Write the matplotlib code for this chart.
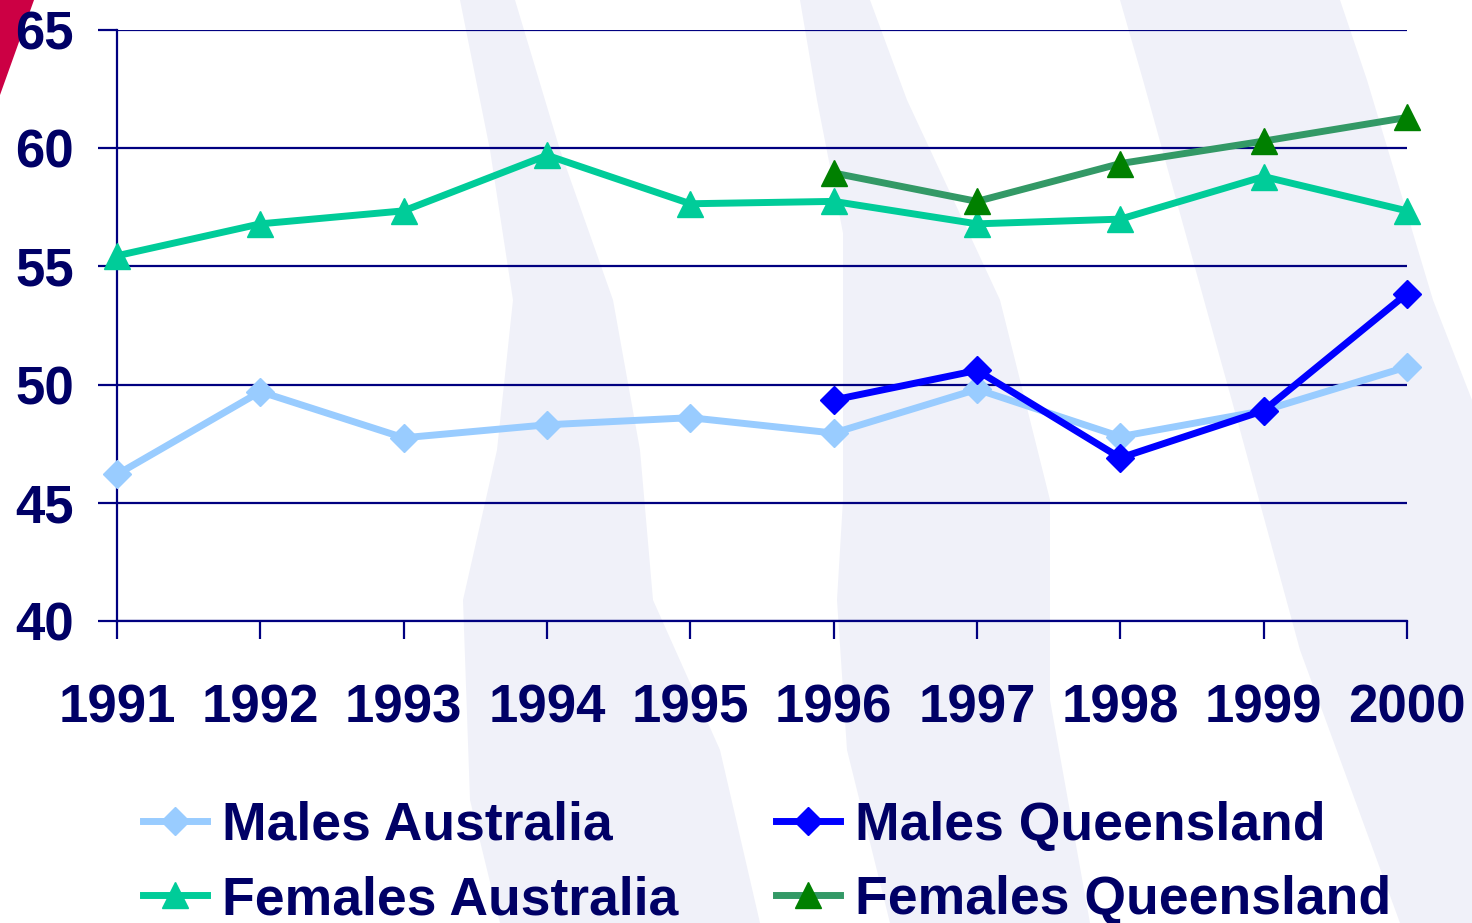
import matplotlib
matplotlib.use("Agg")
import matplotlib.pyplot as plt
from matplotlib.patches import Polygon

years = [1991, 1992, 1993, 1994, 1995, 1996, 1997, 1998, 1999, 2000]
qld_years = [1996, 1997, 1998, 1999, 2000]
males_aus = [46.2, 49.7, 47.75, 48.3, 48.6, 47.95, 49.8, 47.8, 48.9, 50.75]
females_aus = [55.45, 56.8, 57.35, 59.7, 57.65, 57.75, 56.8, 57.0, 58.8, 57.35]
males_qld = [49.35, 50.6, 46.9, 48.9, 53.85]
females_qld = [58.95, 57.75, 59.35, 60.3, 61.3]
yticks = [40, 45, 50, 55, 60, 65]

NAVY = "#000066"
W, H = 1472, 923
fig = plt.figure(figsize=(W / 100, H / 100), dpi=100)
fig.patch.set_facecolor("white")

def px(points):
    return [(x / W, 1 - y / H) for x, y in points]

wm = "#F0F1F9"
bands = [
    [(460, 0), (490, 150), (513, 300), (497, 450), (463, 600), (470, 800), (500, 923),
     (760, 923), (720, 750), (653, 600), (640, 450), (613, 300), (560, 150), (515, 0)],
    [(800, 0), (817, 100), (843, 233), (843, 500), (837, 600), (847, 750), (890, 923),
     (1090, 923), (1050, 700), (1050, 500), (1000, 300), (907, 100), (870, 0)],
    [(1120, 0), (1143, 80), (1240, 430), (1300, 650), (1400, 923), (1472, 923),
     (1472, 400), (1433, 300), (1367, 80), (1340, 0)],
]
for b in bands:
    fig.patches.append(Polygon(px(b), closed=True, transform=fig.transFigure,
                               facecolor=wm, edgecolor="none", zorder=-10))
fig.patches.append(Polygon(px([(0, 0), (34, 0), (0, 95)]), closed=True,
                           transform=fig.transFigure, facecolor="#CC0044",
                           edgecolor="none", zorder=-10))

ax = fig.add_axes([117 / W, 1 - 621 / H, (1407 - 117) / W, (621 - 30) / H])
ax.set_facecolor("none")
ax.set_zorder(1)

lw = 5
ax.plot(years, males_aus, color="#99CCFF", lw=lw, marker="D", ms=14,
        mfc="#99CCFF", mec="#99CCFF", label="Males Australia", zorder=3, clip_on=False)
ax.plot(qld_years, males_qld, color="#0000FF", lw=lw, marker="D", ms=14,
        mfc="#0000FF", mec="#0000FF", label="Males Queensland", zorder=4, clip_on=False)
ax.plot(years, females_aus, color="#00CC99", lw=lw, marker="^", ms=19,
        mfc="#00CC99", mec="#00CC99", label="Females Australia", zorder=3, clip_on=False)
ax.plot(qld_years, females_qld, color="#339966", lw=lw, marker="^", ms=19,
        mfc="#008000", mec="#008000", label="Females Queensland", zorder=4, clip_on=False)

ax.set_xlim(1991, 2000)
ax.set_ylim(40, 65)
ax.set_yticks(yticks)
ax.set_xticks(years)
ax.yaxis.grid(True, color="#000080", lw=1.6)
ax.set_axisbelow(True)
for s in ["top", "right"]:
    ax.spines[s].set_visible(False)
for s in ["left", "bottom"]:
    ax.spines[s].set_color("#000080")
    ax.spines[s].set_linewidth(1.6)

font = dict(family="Liberation Sans", weight="bold", size=38)
ax.tick_params(axis="both", colors="#000080", width=1.6, labelcolor=NAVY)
ax.tick_params(axis="y", length=14, pad=17)
ax.tick_params(axis="x", length=13, pad=32)
for lab in ax.get_xticklabels() + ax.get_yticklabels():
    lab.set_fontproperties(matplotlib.font_manager.FontProperties(**font))

handles, labels = ax.get_legend_handles_labels()
order = [0, 2, 1, 3]
leg = fig.legend([handles[i] for i in order], [labels[i] for i in order],
                 loc="upper left", bbox_to_anchor=(143 / W, 1 - 801 / H),
                 ncol=2, frameon=False, borderpad=0, borderaxespad=0,
                 handlelength=1.2, handletextpad=0.28, columnspacing=1.82,
                 labelspacing=0.45,
                 prop=matplotlib.font_manager.FontProperties(family="Liberation Sans",
                                                             weight="bold", size=38.5))
for t in leg.get_texts():
    t.set_color(NAVY)

fig.savefig("out.png", dpi=100)
